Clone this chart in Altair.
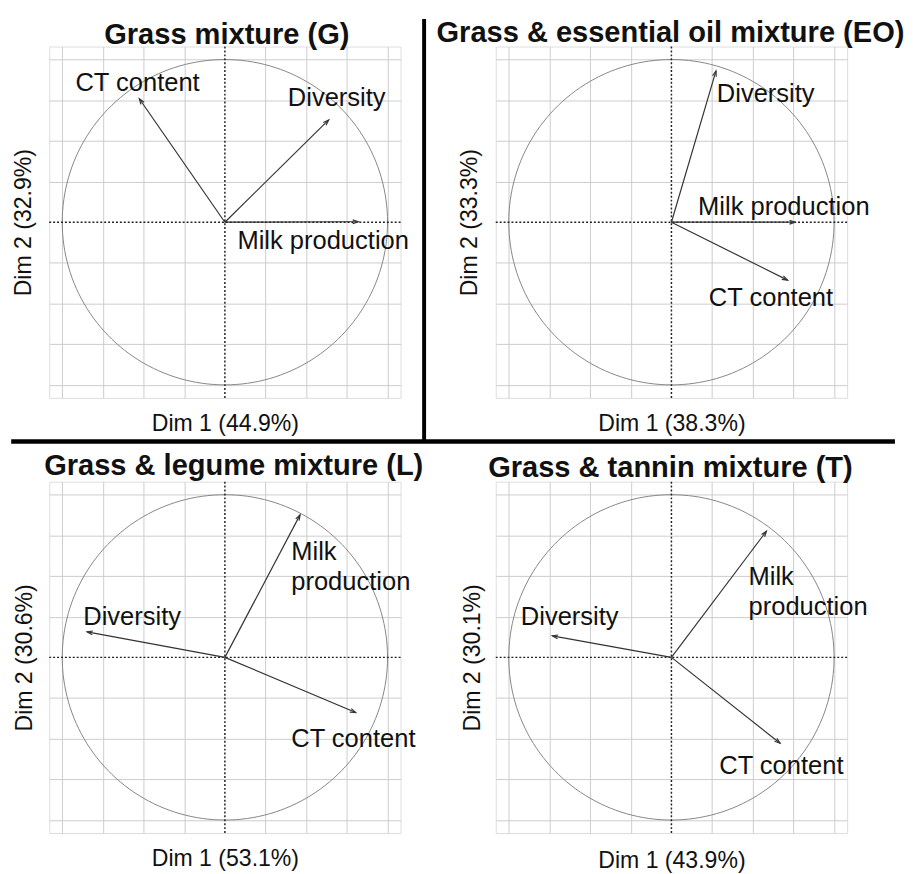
import math
import altair as alt
import pandas as pd

# ---------------- data ----------------
panel_ids = ["G", "EO", "L", "T"]
panel_titles = [
    "Grass mixture (G)",
    "Grass & essential oil mixture (EO)",
    "Grass & legume mixture (L)",
    "Grass & tannin mixture (T)",
]
dim1_pct = [44.9, 38.3, 53.1, 43.9]
dim2_pct = [32.9, 33.3, 30.6, 30.1]

variables = ["Milk production", "Diversity", "CT content"]

# arrow tips (correlation with Dim 1 / Dim 2), order = variables
dim1_coord = {
    "G": [0.82, 0.638, -0.526],
    "EO": [0.76, 0.274, 0.714],
    "L": [0.462, -0.847, 0.804],
    "T": [0.584, -0.732, 0.668],
}
dim2_coord = {
    "G": [0.003, 0.629, 0.759],
    "EO": [0.0, 0.93, -0.356],
    "L": [0.876, 0.157, -0.339],
    "T": [0.776, 0.132, -0.528],
}

# label texts and label anchor (left edge, first-line centre) in data units
label_text = {
    "G": ["Milk production", "Diversity", "CT content"],
    "EO": ["Milk production", "Diversity", "CT content"],
    "L": ["Milk\nproduction", "Diversity", "CT content"],
    "T": ["Milk\nproduction", "Diversity", "CT content"],
}
label_dim1 = {
    "G": [0.077, 0.387, -0.919],
    "EO": [0.164, 0.279, 0.23],
    "L": [0.408, -0.871, 0.408],
    "T": [0.474, -0.926, 0.294],
}
label_dim2 = {
    "G": [-0.114, 0.76, 0.852],
    "EO": [0.09, 0.786, -0.469],
    "L": [0.645, 0.249, -0.5],
    "T": [0.492, 0.248, -0.668],
}

grid_values = [-1, -0.75, -0.5, -0.25, 0.25, 0.5, 0.75, 1]

# ---------------- style / layout ----------------
FONT = "Liberation Sans"
LIM = 1.08
W = 358
H = 358
x_title_pad = [13.8, 13.8, 14, 16]
y_title_pad = [14, 15, 13, 11.5]
title_dx = [2, -1, 9, -1]
title_gap = [2.7, 4.3, 6.4, 4.7]

CHEVRON = "M-0.55,1.6 L0,0 L0.55,1.6"


def panel(i):
    pid = panel_ids[i]
    df = pd.DataFrame(
        {
            "var": variables,
            "d1": dim1_coord[pid],
            "d2": dim2_coord[pid],
            "lx": label_dim1[pid],
            "ly": label_dim2[pid],
            "label": label_text[pid],
        }
    )
    df["x0"] = 0.0
    df["y0"] = 0.0
    df["angle"] = [
        (math.degrees(math.atan2(a, b)) + 360) % 360 for a, b in zip(df.d1, df.d2)
    ]
    zero_df = pd.DataFrame({"z": [0.0]})

    xs = alt.Scale(domain=[-LIM, LIM], nice=False, zero=False)
    ys = alt.Scale(domain=[-LIM, LIM], nice=False, zero=False)
    common = dict(
        values=grid_values,
        labels=False,
        ticks=False,
        domain=False,
        grid=True,
        gridColor="#cccccc",
        gridWidth=1,
        titleFont=FONT,
        titleFontSize=23.5,
        titleFontWeight="normal",
        titleColor="#111111",
    )
    xaxis = alt.Axis(
        title=f"Dim 1 ({dim1_pct[i]}%)", titlePadding=x_title_pad[i], **common
    )
    yaxis = alt.Axis(
        title=f"Dim 2 ({dim2_pct[i]}%)", titlePadding=y_title_pad[i], **common
    )

    def X(f):
        return alt.X(f, scale=xs, axis=xaxis)

    def Y(f):
        return alt.Y(f, scale=ys, axis=yaxis)

    circle = (
        alt.Chart(alt.sequence(0, 362, 2, as_="deg"))
        .transform_calculate(
            cx="cos(datum.deg*PI/180)", cy="sin(datum.deg*PI/180)"
        )
        .mark_line(color="#858585", strokeWidth=1)
        .encode(x=X("cx:Q"), y=Y("cy:Q"), order="deg:Q")
    )
    vline = (
        alt.Chart(zero_df)
        .mark_rule(color="#222222", strokeWidth=1.5, strokeDash=[2, 2])
        .encode(x=X("z:Q"))
    )
    hline = (
        alt.Chart(zero_df)
        .mark_rule(color="#222222", strokeWidth=1.5, strokeDash=[2, 2])
        .encode(y=Y("z:Q"))
    )
    base = alt.Chart(df)
    shafts = base.mark_rule(color="#333333", strokeWidth=1.2).encode(
        x=X("x0:Q"), y=Y("y0:Q"), x2="d1:Q", y2="d2:Q"
    )
    heads = base.mark_point(
        shape=CHEVRON, filled=False, size=50, strokeWidth=1.2, color="#333333", opacity=1
    ).encode(x=X("d1:Q"), y=Y("d2:Q"), angle=alt.Angle("angle:Q", scale=None))
    labels = base.mark_text(
        align="left",
        baseline="middle",
        font=FONT,
        fontSize=26,
        color="#111111",
        lineBreak="\n",
        lineHeight=30,
    ).encode(x=X("lx:Q"), y=Y("ly:Q"), text="label:N")

    # panel title (text above the plot area)
    title = (
        alt.Chart(zero_df)
        .mark_text(
            text=panel_titles[i],
            font=FONT,
            fontSize=29.6,
            fontWeight="bold",
            color="#111111",
            align="center",
            baseline="alphabetic",
        )
        .encode(x=alt.value(W / 2 + title_dx[i]), y=alt.value(-title_gap[i]))
    )

    layers = [circle, vline, hline, shafts, heads, labels, title]

    if i == 0:
        # panel separators (decoration)
        vdiv = (
            alt.Chart(zero_df)
            .mark_rule(color="black", strokeWidth=4)
            .encode(x=alt.value(382), y=alt.value(-28), y2=alt.value(402))
        )
        hdiv = (
            alt.Chart(zero_df)
            .mark_rule(color="black", strokeWidth=4.5)
            .encode(x=alt.value(-38.75), x2=alt.value(861.75), y=alt.value(402.5))
        )
        layers += [vdiv, hdiv]

    return alt.layer(*layers).properties(width=W, height=H)


chart = (
    alt.concat(
        *[panel(i) for i in range(4)],
        columns=2,
        spacing={"row": 85.4, "column": 97},
        bounds="flush",
    )
    .properties(padding={"left": 0, "top": 0, "right": 0, "bottom": 0})
    .configure_view(stroke=None)
    .configure(background="white")
)

chart.save("out.html", embed_options={"renderer": "svg", "actions": False})
